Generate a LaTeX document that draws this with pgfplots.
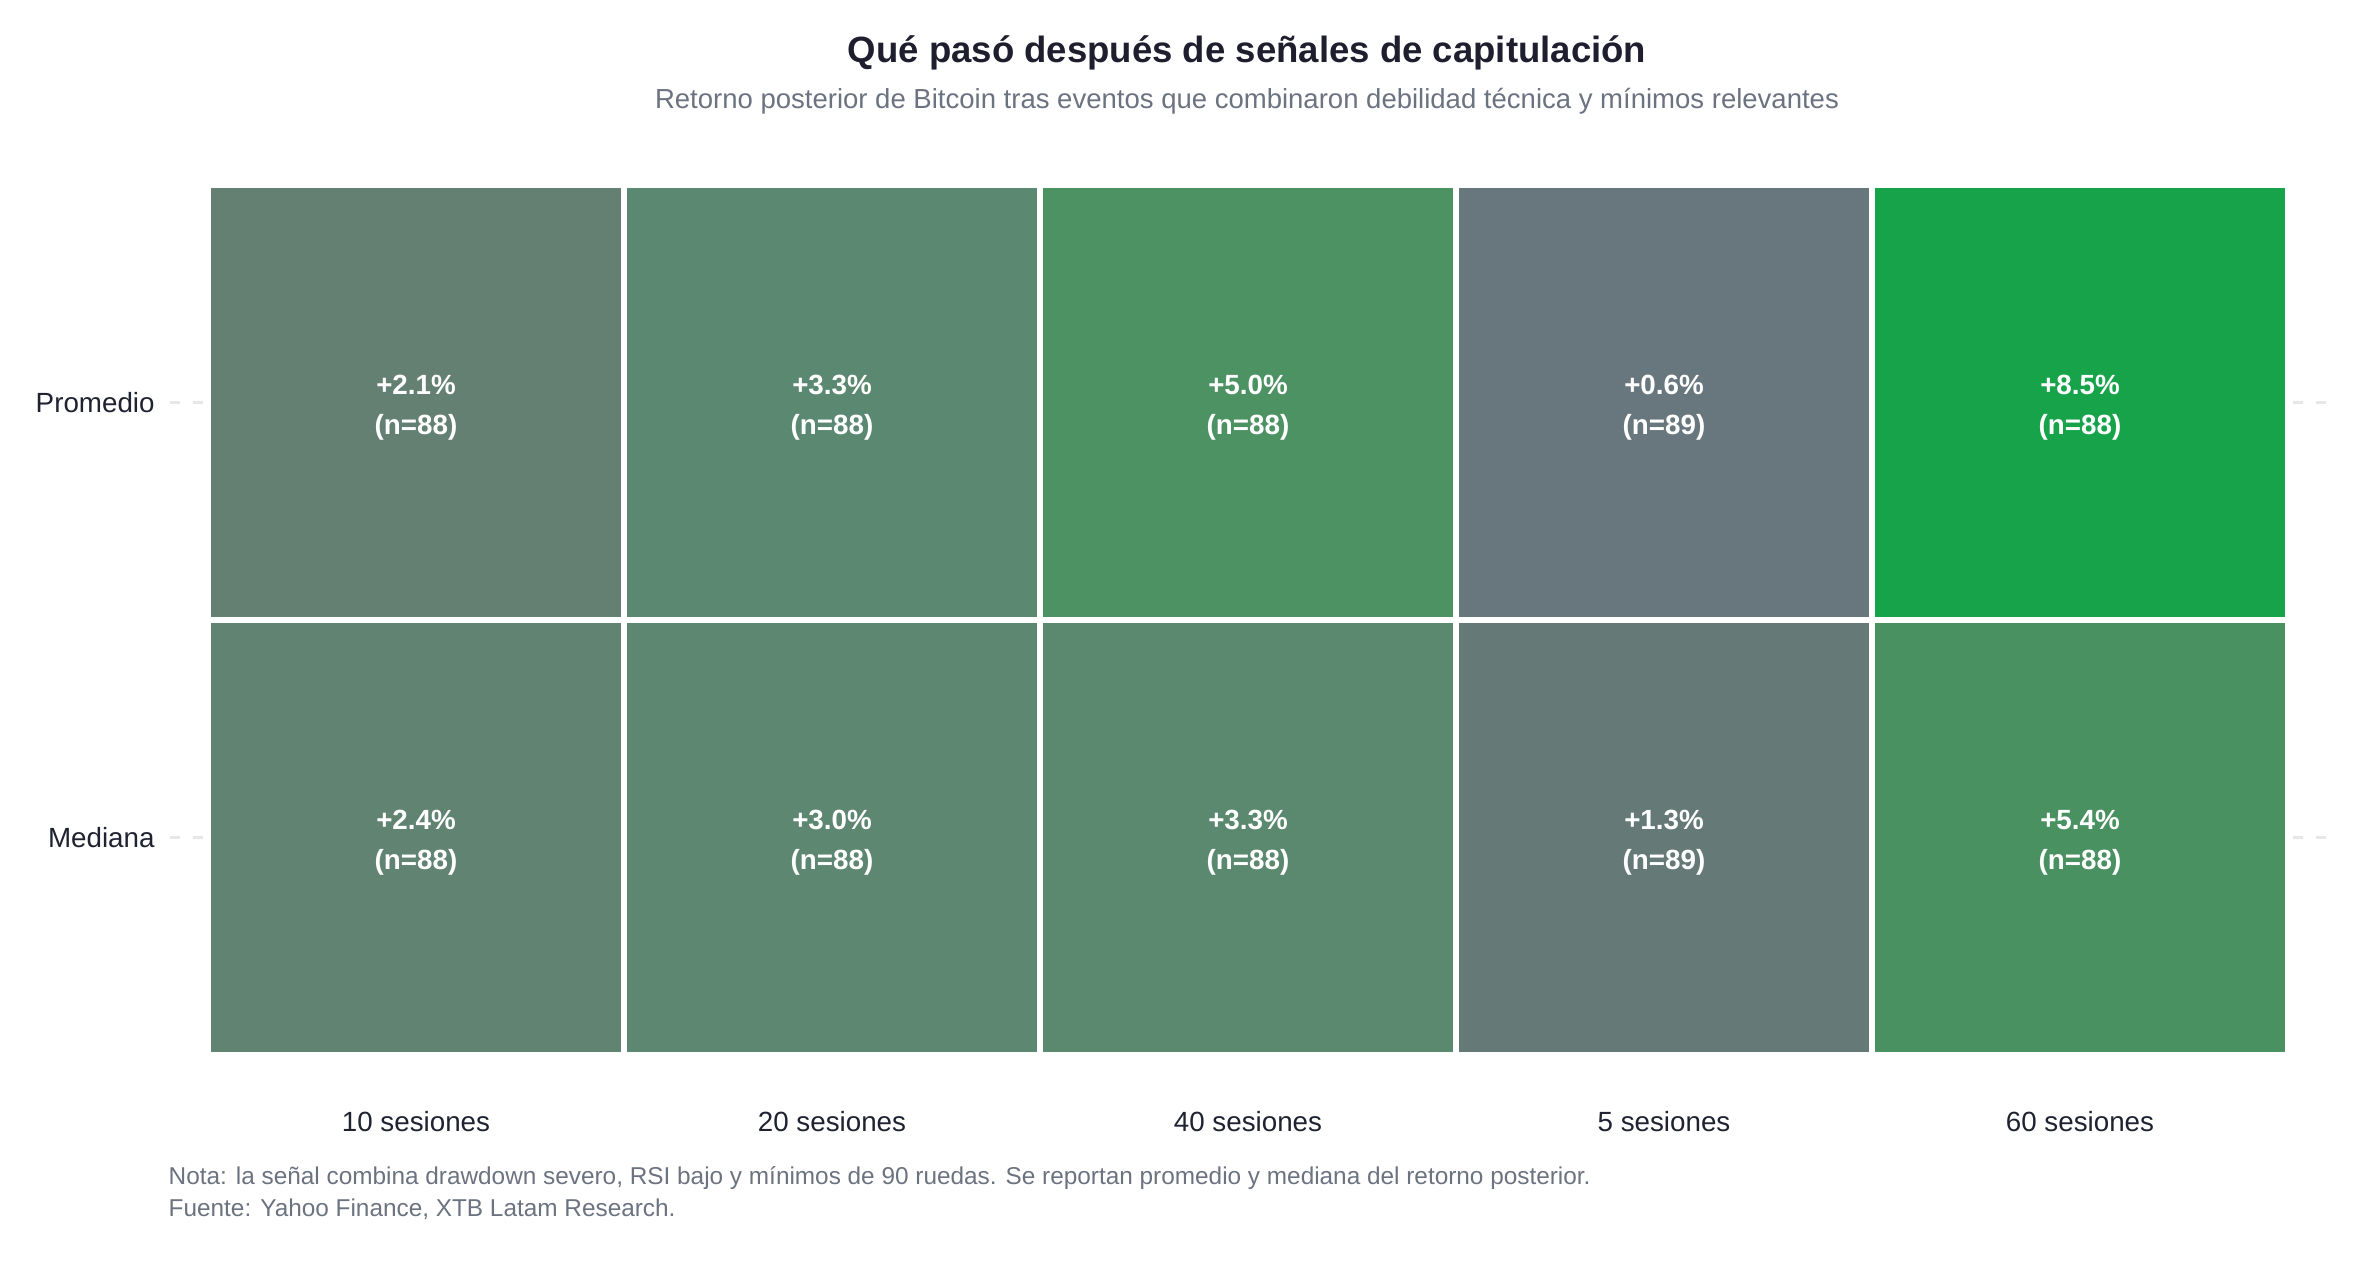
\documentclass[border=0pt]{standalone}
\usepackage{pgfplots}
\pgfplotsset{compat=1.18}
\usepackage{pgfplotstable}
\usepackage{fontspec}
\setmainfont{Liberation Sans}
\definecolor{cA1}{HTML}{638073}
\definecolor{cB1}{HTML}{5A8870}
\definecolor{cC1}{HTML}{4D9263}
\definecolor{cD1}{HTML}{68767D}
\definecolor{cE1}{HTML}{16A34A}
\definecolor{cA0}{HTML}{608372}
\definecolor{cB0}{HTML}{5D8770}
\definecolor{cC0}{HTML}{5A896F}
\definecolor{cD0}{HTML}{657977}
\definecolor{cE0}{HTML}{499160}
\definecolor{titlec}{HTML}{1E1E2F}
\definecolor{subc}{HTML}{6B7280}
\definecolor{tickc}{HTML}{1F2230}
\definecolor{dashc}{HTML}{E5E7EB}
\pgfplotstableread{
x y val n
0 1 2.1 88
1 1 3.3 88
2 1 5.0 88
3 1 0.6 89
4 1 8.5 88
0 0 2.4 88
1 0 3.0 88
2 0 3.3 88
3 0 1.3 89
4 0 5.4 88
}\cells
\begin{document}
\begin{tikzpicture}
\useasboundingbox (0mm,0mm) rectangle (237.6mm,127.6mm);
\node[font=\bfseries\fontsize{10.4}{12}\selectfont, text=titlec] at (124.7mm,122.3mm) {Qué pasó después de señales de capitulación};
\node[font=\fontsize{7.83}{10}\selectfont, text=subc] at (124.7mm,117.5mm) {Retorno posterior de Bitcoin tras eventos que combinaron debilidad técnica y mínimos relevantes};
\node[font=\fontsize{6.93}{9.1}\selectfont, text=subc, anchor=north west, align=left, inner sep=0pt] at (16.8mm,11.0mm) {Nota: la señal combina drawdown severo, RSI bajo y mínimos de 90 ruedas. Se reportan promedio y mediana del retorno posterior.\\Fuente: Yahoo Finance, XTB Latam Research.};
\begin{axis}[
  at={(20.8mm,22.1mm)}, anchor=south west,
  scale only axis, width=208mm, height=87mm,
  xmin=-0.5, xmax=4.5, ymin=-0.5, ymax=1.5,
  axis line style={draw=none},
  xtick={0,1,2,3,4},
  xticklabels={10 sesiones,20 sesiones,40 sesiones,5 sesiones,60 sesiones},
  ytick={0,1},
  yticklabels={Mediana,Promedio},
  tick align=outside,
  major tick length=3.8mm,
  ytick pos=both,
  xtick pos=bottom,
  xtick style={draw=none},
  ytick style={draw=dashc, line width=0.35mm, dash pattern=on 1mm off 1.3mm},
  yticklabel pos=left,
  ticklabel style={font=\fontsize{7.9}{9}\selectfont, text=tickc},
  xticklabel style={yshift=-0.6mm},
  yticklabel style={xshift=-0.3mm},
  /pgf/number format/assume math mode=true,
  clip=false,
]
\addplot[fill=cA1, draw=white, line width=0.6mm] coordinates {(-0.5,0.5) (0.5,0.5) (0.5,1.5) (-0.5,1.5)} -- cycle;
\addplot[fill=cB1, draw=white, line width=0.6mm] coordinates {(0.5,0.5) (1.5,0.5) (1.5,1.5) (0.5,1.5)} -- cycle;
\addplot[fill=cC1, draw=white, line width=0.6mm] coordinates {(1.5,0.5) (2.5,0.5) (2.5,1.5) (1.5,1.5)} -- cycle;
\addplot[fill=cD1, draw=white, line width=0.6mm] coordinates {(2.5,0.5) (3.5,0.5) (3.5,1.5) (2.5,1.5)} -- cycle;
\addplot[fill=cE1, draw=white, line width=0.6mm] coordinates {(3.5,0.5) (4.5,0.5) (4.5,1.5) (3.5,1.5)} -- cycle;
\addplot[fill=cA0, draw=white, line width=0.6mm] coordinates {(-0.5,-0.5) (0.5,-0.5) (0.5,0.5) (-0.5,0.5)} -- cycle;
\addplot[fill=cB0, draw=white, line width=0.6mm] coordinates {(0.5,-0.5) (1.5,-0.5) (1.5,0.5) (0.5,0.5)} -- cycle;
\addplot[fill=cC0, draw=white, line width=0.6mm] coordinates {(1.5,-0.5) (2.5,-0.5) (2.5,0.5) (1.5,0.5)} -- cycle;
\addplot[fill=cD0, draw=white, line width=0.6mm] coordinates {(2.5,-0.5) (3.5,-0.5) (3.5,0.5) (2.5,0.5)} -- cycle;
\addplot[fill=cE0, draw=white, line width=0.6mm] coordinates {(3.5,-0.5) (4.5,-0.5) (4.5,0.5) (3.5,0.5)} -- cycle;
\addplot[draw=none, mark=none, point meta=\thisrow{val},
  nodes near coords={+\pgfmathprintnumber[fixed,fixed zerofill,precision=1,assume math mode=true]{\pgfplotspointmeta}\%},
  nodes near coords style={anchor=center, yshift=1.72mm, text=white, font=\bfseries\fontsize{7.9}{9}\selectfont}]
  table[x=x,y=y] {\cells};
\addplot[draw=none, mark=none, point meta=\thisrow{n},
  nodes near coords={(n=\pgfmathprintnumber[fixed,precision=0,assume math mode=true]{\pgfplotspointmeta})},
  nodes near coords style={anchor=center, yshift=-2.52mm, text=white, font=\bfseries\fontsize{7.9}{9}\selectfont}]
  table[x=x,y=y] {\cells};
\end{axis}
\end{tikzpicture}
\end{document}
